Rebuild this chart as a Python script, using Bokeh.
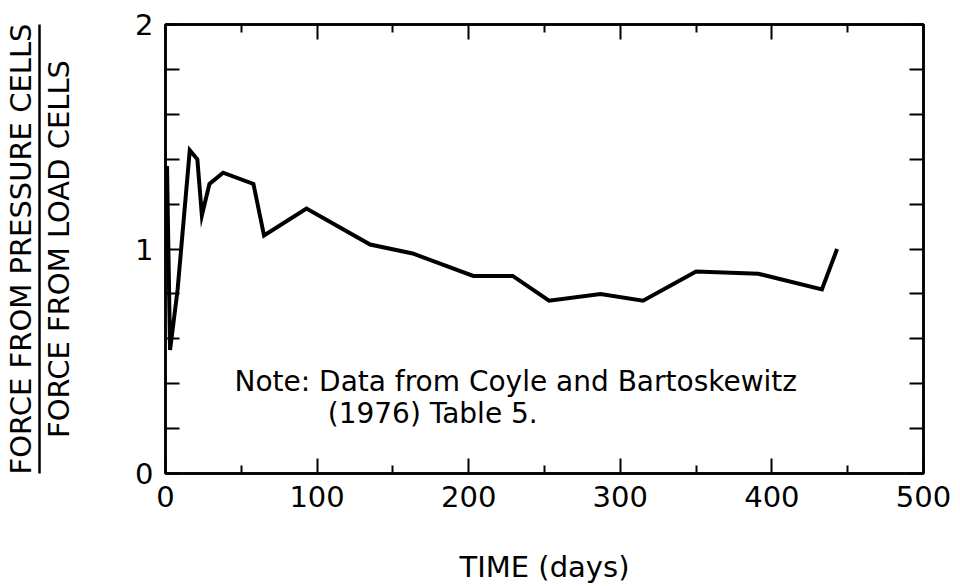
from bokeh.plotting import figure
from bokeh.models import LinearAxis, FixedTicker, Label, Range1d
from bokeh.embed import file_html
from bokeh.resources import INLINE

# Ratio of pressure-cell force to load-cell force over time
days = [1, 3, 8, 16, 21, 24, 29, 38, 58, 65, 93, 135, 163, 203, 229, 253, 287, 315, 350, 391, 433, 443]
ratio = [1.37, 0.55, 0.82, 1.44, 1.40, 1.15, 1.29, 1.34, 1.29, 1.06, 1.18, 1.02, 0.98, 0.88, 0.88,
         0.77, 0.80, 0.77, 0.90, 0.89, 0.82, 1.00]

x_major = [0, 100, 200, 300, 400, 500]
x_minor = [50, 150, 250, 350, 450]
y_major = [0, 1, 2]
y_minor = [0.2, 0.4, 0.6, 0.8, 1.2, 1.4, 1.6, 1.8]

note_lines = ["Note: Data from Coyle and Bartoskewitz", "(1976) Table 5."]

FONT = "DejaVu Sans"
INK = "black"

p = figure(width=960, height=586, output_backend="svg", toolbar_location=None,
           x_range=Range1d(0, 500), y_range=Range1d(0, 2),
           min_border_left=10, min_border_right=37, min_border_top=24, min_border_bottom=10)
p.background_fill_color = "white"
p.border_fill_color = "white"
p.outline_line_color = INK
p.outline_line_width = 2.5
p.xgrid.visible = False
p.ygrid.visible = False


def style_axis(ax, major, minor, major_len, minor_len, labels=True):
    ax.ticker = FixedTicker(ticks=major, minor_ticks=minor)
    ax.axis_line_color = INK
    ax.axis_line_width = 2.5
    ax.major_tick_line_color = INK
    ax.major_tick_line_width = 2
    ax.minor_tick_line_color = INK
    ax.minor_tick_line_width = 2
    ax.major_tick_in = major_len
    ax.major_tick_out = 0
    ax.minor_tick_in = minor_len
    ax.minor_tick_out = 0
    ax.major_label_text_font = FONT
    if labels:
        ax.major_label_text_font_size = "29px"
        ax.major_label_text_color = INK
    else:
        # tick marks only, no numbers
        ax.major_label_text_font_size = "1px"
        ax.major_label_text_color = None
        ax.major_label_standoff = 0
    ax.axis_label_text_font = FONT
    ax.axis_label_text_font_style = "normal"
    ax.axis_label_text_font_size = "29px"
    ax.axis_label_text_color = INK


# bottom axis
xa = p.xaxis[0]
style_axis(xa, x_major, x_minor, 15, 8)
xa.major_label_standoff = 12
xa.axis_label = "TIME (days)"
xa.axis_label_standoff = 40

# left axis with the denominator of the label
ya = p.yaxis[0]
style_axis(ya, y_major, y_minor, 14, 14)
ya.major_label_standoff = 12
ya.axis_label = "FORCE FROM LOAD CELLS"
ya.axis_label_standoff = 56

# fraction bar between numerator and denominator
bar = LinearAxis()
style_axis(bar, [], [], 0, 0, labels=False)
p.add_layout(bar, "left")

# numerator of the label
num = LinearAxis()
style_axis(num, [], [], 0, 0, labels=False)
num.axis_line_color = None
num.axis_label = "FORCE FROM PRESSURE CELLS"
num.axis_label_standoff = 2
p.add_layout(num, "left")

# mirrored tick marks on top and right
top = LinearAxis()
style_axis(top, x_major, x_minor, 15, 8, labels=False)
p.add_layout(top, "above")
right = LinearAxis()
style_axis(right, y_major, y_minor, 14, 14, labels=False)
p.add_layout(right, "right")

p.line(days, ratio, line_color=INK, line_width=4, line_join="miter")

p.add_layout(Label(x=45.5, y=0.412, text=note_lines[0], text_font=FONT, text_font_size="28px",
                   text_color=INK, text_baseline="alphabetic"))
p.add_layout(Label(x=107, y=0.266, text=note_lines[1], text_font=FONT, text_font_size="28px",
                   text_color=INK, text_baseline="alphabetic"))

open("out.html", "w").write(file_html(p, INLINE))
